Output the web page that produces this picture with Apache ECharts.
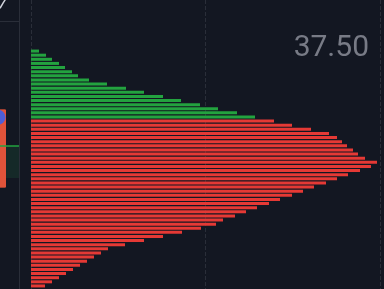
<!DOCTYPE html>
<html><head><meta charset="utf-8">
<script src="https://cdn.jsdelivr.net/npm/echarts@6/dist/echarts.min.js"></script>
<style>html,body{margin:0;padding:0;background:#131722;}#c{width:384px;height:289px;}</style>
</head><body><div id="c"></div>
<script>
// Volume profile rows (top to bottom): buy (green) rows then sell (red) rows
const greenVolumes = [8, 15, 21, 28, 34, 41, 47, 58, 76, 95, 113, 132, 150, 169, 187, 206, 224];
const redVolumes = [243, 261, 280, 298, 306, 311, 316, 322, 327, 334, 346, 340, 329, 317, 306, 295, 283, 272, 261, 249, 238, 226, 215, 204, 192, 185, 170, 151, 132, 113, 94, 77, 70, 63, 56, 49, 42, 35, 28, 21, 14];
const priceLabel = '37.50';
const lastPrice = 37.50;
// partial price chart at the left edge
const candleCats = ['c0', 'c1', 'c2', 'c3', 'c4', 'c5', 'c6'];
const candleData = [[38.13, 36.78, 36.78, 38.13], '-', '-', '-', '-', '-', '-']; // open, close, low, high
const markerPoint = [38.00, '-', '-', '-', '-', '-', '-'];
const trendLine = [39.905, 39.998, 40.088, '-', '-', '-', '-'];
const zoneLow = 36.94;
const gridLevel = 39.68;

const rows = greenVolumes.length + redVolumes.length;
const cats = Array.from({length: rows}, (_, i) => 'r' + i);
const greenSeries = cats.map((_, i) => i < greenVolumes.length ? greenVolumes[i] : '-');
const redSeries = cats.map((_, i) => i >= greenVolumes.length ? redVolumes[i - greenVolumes.length] : '-');

const chart = echarts.init(document.getElementById('c'), null, {renderer: 'canvas'});
chart.setOption({
  backgroundColor: '#131722',
  animation: false,
  title: {
    text: priceLabel, right: 10, top: 28,
    textStyle: {fontFamily: 'Roboto', fontSize: 30, fontWeight: 'normal', color: '#787b86'}
  },
  grid: [
    {left: 31, width: 353, top: 49, height: 239},
    {left: 0, width: 19, top: 0, height: 289},
    {left: 31, width: 353, top: 0, height: 289}
  ],
  xAxis: [
    {gridIndex: 0, type: 'value', min: 0, max: 353, show: false, splitLine: {show: false}},
    {gridIndex: 1, type: 'category', data: candleCats, boundaryGap: false, show: false},
    {gridIndex: 2, type: 'value', min: 0, max: 353, interval: 174.5,
     axisLine: {show: false}, axisTick: {show: false}, axisLabel: {show: false},
     splitLine: {show: true, lineStyle: {color: '#2a2e39', type: 'dashed', width: 1}}}
  ],
  yAxis: [
    {gridIndex: 0, type: 'category', data: cats, inverse: true, show: false},
    {gridIndex: 1, type: 'value', min: 35, max: 40.05, position: 'right',
     axisLine: {show: true, lineStyle: {color: '#2a2e39', width: 1}},
     axisTick: {show: false}, axisLabel: {show: false}, splitLine: {show: false}},
    {gridIndex: 2, type: 'value', min: 0, max: 1, show: false, splitLine: {show: false}}
  ],
  series: [
    {type: 'line', xAxisIndex: 2, yAxisIndex: 2, data: [], silent: true},
    {type: 'bar', xAxisIndex: 0, yAxisIndex: 0, data: greenSeries, barWidth: 3, barGap: '-100%',
     itemStyle: {color: '#23a33f'}},
    {type: 'bar', xAxisIndex: 0, yAxisIndex: 0, data: redSeries, barWidth: 3, barGap: '-100%',
     itemStyle: {color: '#e53935'}},
    {type: 'candlestick', xAxisIndex: 1, yAxisIndex: 1, data: candleData, barWidth: 11,
     itemStyle: {color: '#26a69a', color0: '#e0533a', borderColor: '#26a69a', borderColor0: '#e0533a'},
     markArea: {silent: true, itemStyle: {color: 'rgba(34,130,70,0.18)'},
       data: [[{yAxis: lastPrice}, {yAxis: zoneLow}]]},
     markLine: {silent: true, symbol: 'none', label: {show: false},
       data: [
         {yAxis: lastPrice, lineStyle: {color: '#23a33f', width: 1.5, type: 'solid'}},
         {yAxis: gridLevel, lineStyle: {color: '#2a2e39', width: 1, type: 'solid'}}
       ]}},
    {type: 'scatter', xAxisIndex: 1, yAxisIndex: 1, data: markerPoint, symbolSize: 15,
     symbolOffset: [-2, 0], itemStyle: {color: '#2962ff'}},
    {type: 'line', xAxisIndex: 1, yAxisIndex: 1, data: trendLine, symbol: 'none',
     lineStyle: {color: '#d1d4dc', width: 1.5}}
  ]
});
</script></body></html>
